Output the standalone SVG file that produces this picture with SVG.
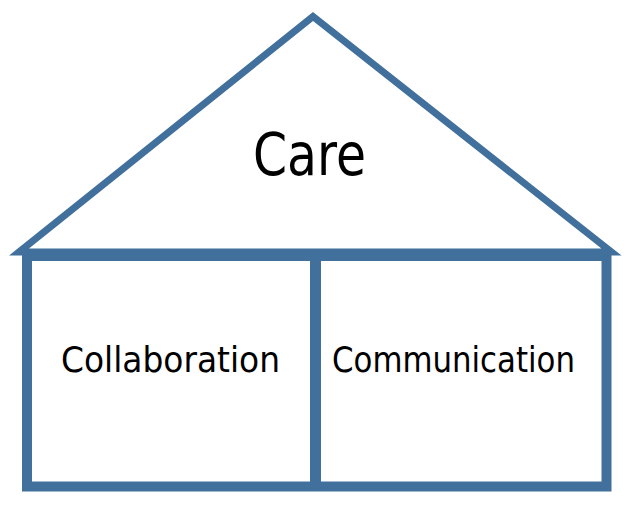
<svg xmlns="http://www.w3.org/2000/svg" width="638" height="507" viewBox="0 0 638 507">
<style>
.edge{fill:none;stroke:#41709C;stroke-linejoin:miter}
.lbl{font-family:"DejaVu Sans","Noto Sans",sans-serif;fill:#000;text-anchor:middle}
</style>
<rect width="638" height="507" fill="#fff"/>
<g id="roof">
<polygon class="edge" points="19,252 313,16.5 611.5,252" stroke-width="7"/>
<text class="lbl" x="309.5" y="175" font-size="58" textLength="113" lengthAdjust="spacingAndGlyphs">Care</text>
</g>
<g id="house">
<rect class="edge" x="27" y="256" width="579.5" height="230.5" stroke-width="10"/>
</g>
<g id="connectors">
<line class="edge" x1="315.5" y1="256" x2="315.5" y2="486.5" stroke-width="11"/>
</g>
<g id="collaboration">
<text class="lbl" x="170.5" y="372" font-size="36" textLength="219" lengthAdjust="spacingAndGlyphs">Collaboration</text>
</g>
<g id="communication">
<text class="lbl" x="453.5" y="372" font-size="36" textLength="243" lengthAdjust="spacingAndGlyphs">Communication</text>
</g>
</svg>
